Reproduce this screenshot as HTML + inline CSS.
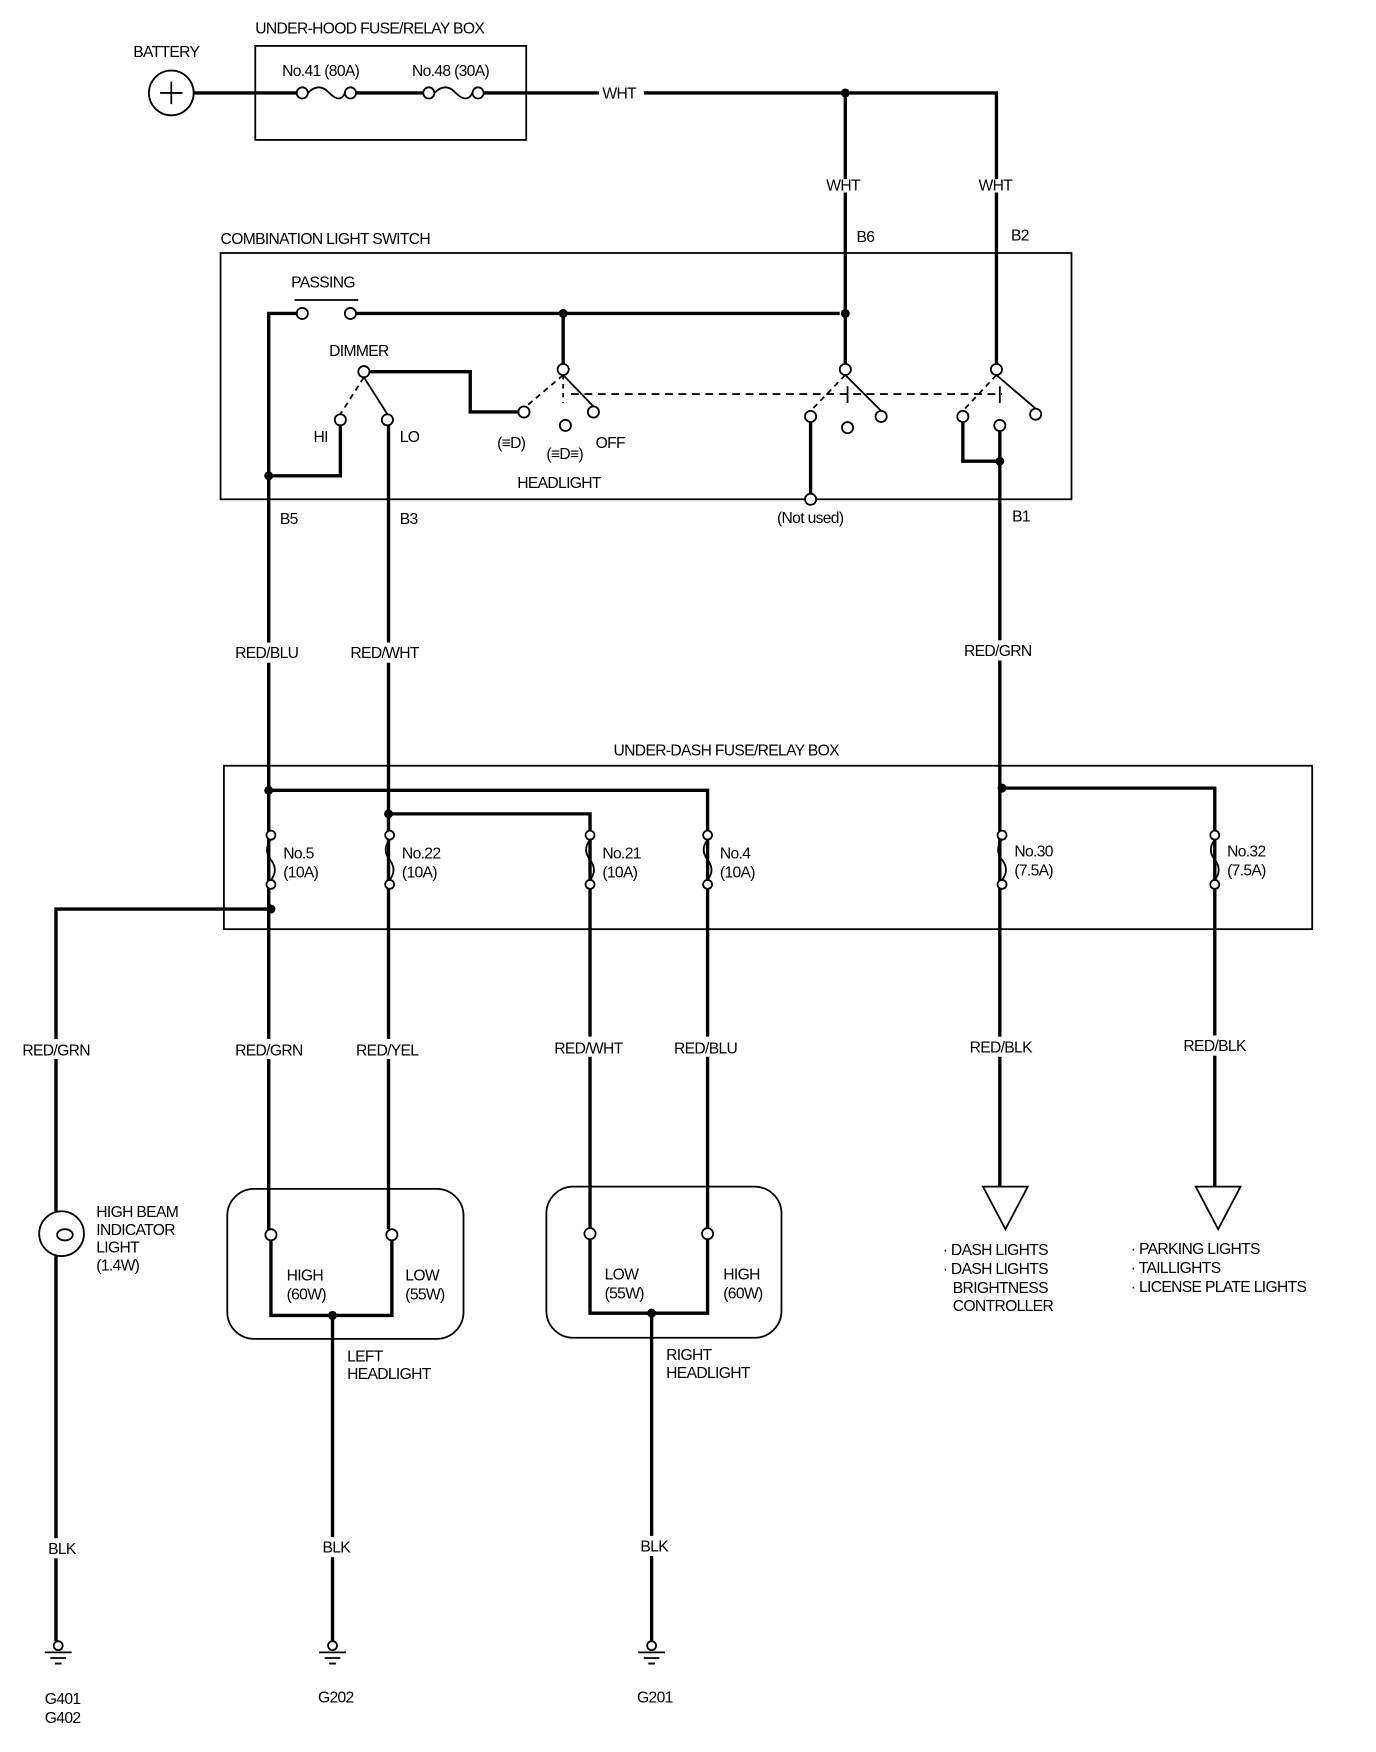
<!DOCTYPE html>
<html><head><meta charset="utf-8"><style>
html,body{margin:0;padding:0;background:#fff;width:1376px;height:1752px;overflow:hidden}
svg{display:block}
text{font-family:"Liberation Sans",sans-serif;font-size:14px;fill:#000;letter-spacing:-0.6px}
</style></head><body>
<svg width="1376" height="1752" viewBox="0 0 1229 1565" preserveAspectRatio="none" xmlns="http://www.w3.org/2000/svg">
<defs>
<g id="f"><circle cx="0" cy="-22" r="4" fill="#fff" stroke="#000" stroke-width="1.6"/><circle cx="0" cy="22" r="4" fill="#fff" stroke="#000" stroke-width="1.6"/><path d="M0 -18q-7 9 0 18q7 9 0 18" fill="none" stroke="#000" stroke-width="1.6"/></g>
<g id="g"><circle cx="0" cy="0" r="4" fill="#fff" stroke="#000" stroke-width="1.6"/><path d="M-12 6H12M-7 11H7M-3 16H3" fill="none" stroke="#000" stroke-width="1.6"/></g>
</defs>
<g fill="none" stroke="#000" stroke-width="1.6">
<rect x="228" y="41" width="242" height="84"/>
<rect x="197" y="226" width="760" height="220"/>
<rect x="200" y="684" width="972" height="146"/>
<rect x="203" y="1062" width="211" height="134" rx="24"/>
<rect x="488" y="1060" width="210" height="135" rx="24"/>
<circle cx="153" cy="83" r="20"/>
<circle cx="55" cy="1102" r="20"/>
<polygon points="878,1060 918,1060 898,1098"/>
<polygon points="1068,1060 1108,1060 1088,1098"/>
</g>
<path d="M143 83h20M153 73v20" stroke="#000" stroke-width="1.6"/>
<g fill="none" stroke="#000" stroke-width="3">
<path d="M173 83H265M318 83H378M432 83H535M575 83H890V160M890 172V325"/>
<path d="M755 83V160M755 172V325"/>
<path d="M265 280H240V1098"/>
<path d="M318 280H750"/>
<path d="M503 280V325"/>
<path d="M330 332H420V368H463"/>
<path d="M304 380V425H240"/>
<path d="M347 380V1098"/>
<path d="M724 377V441"/>
<path d="M860 377V412H893"/>
<path d="M893 385V1060"/>
<path d="M240 706H632V1097"/>
<path d="M347 727H527V1097"/>
<path d="M893 704H1085V1060"/>
<path d="M242 812H50V1082M50 1122V1466"/>
<path d="M242 1108V1175H350V1108M297 1175V1466"/>
<path d="M527 1107V1173H632V1107M582 1173V1466"/>
</g>
<g fill="#fff">
<rect x="200" y="574" width="90" height="18"/><rect x="305" y="574" width="85" height="18"/>
<rect x="855" y="572" width="80" height="18"/>
<rect x="200" y="928" width="85" height="18"/><rect x="310" y="928" width="80" height="18"/>
<rect x="490" y="926" width="80" height="18"/><rect x="597" y="926" width="75" height="18"/>
<rect x="860" y="926" width="75" height="18"/><rect x="1050" y="925" width="75" height="18"/>
<rect x="10" y="928" width="85" height="18"/>
<rect x="30" y="1374" width="50" height="18"/><rect x="280" y="1373" width="40" height="18"/><rect x="565" y="1372" width="40" height="18"/>
</g>
<use href="#f" x="242" y="768"/><use href="#f" x="348" y="768"/><use href="#f" x="527" y="768"/><use href="#f" x="632" y="768"/><use href="#f" x="895" y="768"/><use href="#f" x="1085" y="768"/>
<g fill="#fff" stroke="#000" stroke-width="1.6">
<circle cx="270" cy="83" r="5"/><circle cx="313" cy="83" r="5"/><path d="M275 83q10 -10 19 0q10 10 14 0" fill="none"/>
<circle cx="383" cy="83" r="5"/><circle cx="427" cy="83" r="5"/><path d="M388 83q10 -10 19 0q10 10 15 0" fill="none"/>
<circle cx="270" cy="280" r="5"/><circle cx="313" cy="280" r="5"/>
<circle cx="325" cy="332" r="5"/><circle cx="304" cy="375" r="5"/><circle cx="346" cy="375" r="5"/>
<circle cx="503" cy="330" r="5"/><circle cx="468" cy="368" r="5"/><circle cx="505" cy="380" r="5"/><circle cx="530" cy="368" r="5"/>
<circle cx="755" cy="330" r="5"/><circle cx="724" cy="372" r="5"/><circle cx="757" cy="382" r="5"/><circle cx="787" cy="372" r="5"/>
<circle cx="890" cy="330" r="5"/><circle cx="860" cy="372" r="5"/><circle cx="893" cy="380" r="5"/><circle cx="925" cy="370" r="5"/>
<circle cx="724" cy="446" r="5"/>
<circle cx="242" cy="1103" r="5"/><circle cx="350" cy="1103" r="5"/><circle cx="527" cy="1102" r="5"/><circle cx="632" cy="1102" r="5"/>
<ellipse cx="58" cy="1103" rx="7" ry="5"/>
</g>
<g stroke="#000" stroke-width="1.6" fill="none">
<path d="M263 268H320"/>
<path d="M325 337L346 370"/><path d="M325 337L304 370" stroke-dasharray="5 4"/>
<path d="M503 335L530 363"/><path d="M503 335L470 363" stroke-dasharray="5 4"/><path d="M503 335V360" stroke-dasharray="4 4"/>
<path d="M755 335L787 367"/><path d="M755 335L724 367" stroke-dasharray="5 4"/><path d="M757 345V360"/>
<path d="M890 335L925 365"/><path d="M890 335L860 367" stroke-dasharray="5 4"/><path d="M893 345V360"/>
<path d="M510 352H895" stroke-dasharray="7 5"/>
</g>
<g fill="#000">
<circle cx="755" cy="83" r="4"/><circle cx="503" cy="280" r="4"/><circle cx="755" cy="280" r="4"/>
<circle cx="240" cy="425" r="4"/><circle cx="893" cy="412" r="4"/>
<circle cx="240" cy="706" r="4"/><circle cx="347" cy="727" r="4"/><circle cx="895" cy="704" r="4"/><circle cx="242" cy="812" r="4"/>
<circle cx="297" cy="1175" r="4"/><circle cx="582" cy="1173" r="4"/>
</g>
<use href="#g" x="52" y="1470"/><use href="#g" x="297" y="1470"/><use href="#g" x="582" y="1470"/>
<text x="228" y="30">UNDER-HOOD FUSE/RELAY BOX</text>
<text x="119" y="51">BATTERY</text>
<text x="252" y="68">No.41 (80A)</text>
<text x="368" y="68">No.48 (30A)</text>
<text x="538" y="88">WHT</text>
<text x="738" y="170">WHT</text>
<text x="874" y="170">WHT</text>
<text x="765" y="216">B6</text><text x="903" y="215">B2</text>
<text x="197" y="218">COMBINATION LIGHT SWITCH</text>
<text x="260" y="257">PASSING</text>
<text x="294" y="318">DIMMER</text>
<text x="280" y="395">HI</text><text x="357" y="395">LO</text>
<text x="444" y="400" font-size="12">(≡D)</text>
<text x="488" y="410" font-size="11">(≡D≡)</text>
<text x="532" y="400">OFF</text>
<text x="462" y="436">HEADLIGHT</text>
<text x="694" y="467">(Not used)</text>
<text x="250" y="468">B5</text><text x="357" y="468">B3</text><text x="904" y="466">B1</text>
<text x="210" y="588">RED/BLU</text><text x="313" y="588">RED/WHT</text><text x="861" y="586">RED/GRN</text>
<text x="548" y="675">UNDER-DASH FUSE/RELAY BOX</text>
<text x="253" y="767">No.5</text><text x="253" y="784">(10A)</text>
<text x="359" y="767">No.22</text><text x="359" y="784">(10A)</text>
<text x="538" y="767">No.21</text><text x="538" y="784">(10A)</text>
<text x="643" y="767">No.4</text><text x="643" y="784">(10A)</text>
<text x="906" y="765">No.30</text><text x="906" y="782">(7.5A)</text>
<text x="1096" y="765">No.32</text><text x="1096" y="782">(7.5A)</text>
<text x="20" y="943">RED/GRN</text><text x="210" y="943">RED/GRN</text><text x="318" y="943">RED/YEL</text>
<text x="495" y="941">RED/WHT</text><text x="602" y="941">RED/BLU</text>
<text x="866" y="940">RED/BLK</text><text x="1057" y="939">RED/BLK</text>
<text x="86" y="1087">HIGH BEAM</text><text x="86" y="1103">INDICATOR</text><text x="86" y="1119">LIGHT</text><text x="86" y="1135">(1.4W)</text>
<text x="256" y="1144">HIGH</text><text x="256" y="1161">(60W)</text>
<text x="362" y="1144">LOW</text><text x="362" y="1161">(55W)</text>
<text x="540" y="1143">LOW</text><text x="540" y="1160">(55W)</text>
<text x="646" y="1143">HIGH</text><text x="646" y="1160">(60W)</text>
<text x="310" y="1216">LEFT</text><text x="310" y="1232">HEADLIGHT</text>
<text x="595" y="1215">RIGHT</text><text x="595" y="1231">HEADLIGHT</text>
<text x="842" y="1121">· DASH LIGHTS</text><text x="842" y="1138">· DASH LIGHTS</text><text x="851" y="1155">BRIGHTNESS</text><text x="851" y="1171">CONTROLLER</text>
<text x="1010" y="1120">· PARKING LIGHTS</text><text x="1010" y="1137">· TAILLIGHTS</text><text x="1010" y="1154">· LICENSE PLATE LIGHTS</text>
<text x="43" y="1388">BLK</text><text x="288" y="1387">BLK</text><text x="572" y="1386">BLK</text>
<text x="40" y="1522">G401</text><text x="40" y="1539">G402</text>
<text x="284" y="1521">G202</text><text x="569" y="1521">G201</text>
</svg>
</body></html>
